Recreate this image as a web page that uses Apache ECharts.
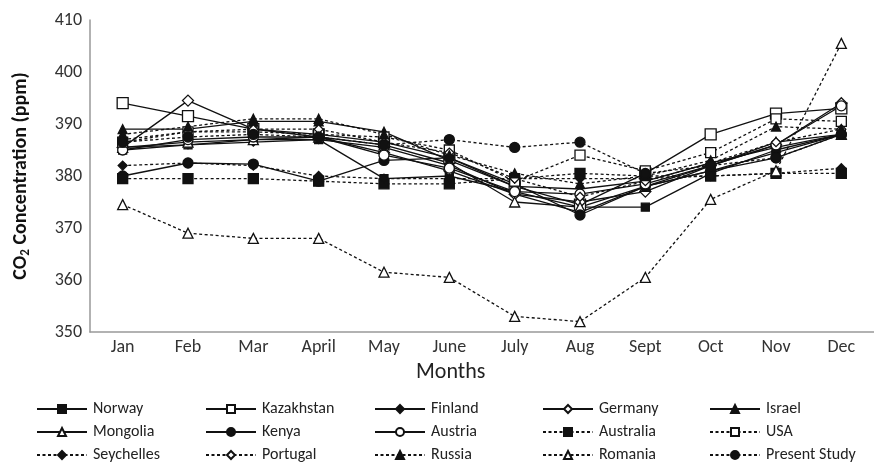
<!DOCTYPE html>
<html>
<head>
<meta charset="utf-8">
<script src="https://cdn.jsdelivr.net/npm/echarts@6/dist/echarts.min.js"></script>
<style>
  html, body { margin: 0; padding: 0; background: #fff; }
  #chart { width: 874px; height: 464px; }
</style>
</head>
<body>
<div id="chart"></div>
<script>
// Monthly CO2 concentration (ppm) by country
const months = ['Jan', 'Feb', 'Mar', 'April', 'May', 'June', 'July', 'Aug', 'Sept', 'Oct', 'Nov', 'Dec'];
const yTicks = [350, 360, 370, 380, 390, 400, 410];

const norway       = [385.0, 386.0, 387.0, 387.0, 379.5, 380.0, 377.0, 374.0, 374.0, 380.5, 385.0, 388.0];
const kazakhstan   = [394.0, 391.5, 389.0, 388.0, 386.5, 383.5, 378.0, 374.5, 380.5, 388.0, 392.0, 393.0];
const finland      = [385.5, 386.0, 386.5, 387.0, 385.5, 382.0, 376.5, 373.0, 378.0, 381.0, 384.5, 388.0];
const germany      = [385.5, 394.5, 389.0, 387.5, 384.5, 381.0, 376.5, 375.0, 377.0, 382.0, 386.0, 394.0];
const israel       = [389.0, 389.0, 390.5, 390.5, 388.5, 383.0, 378.0, 377.5, 379.0, 382.5, 385.5, 388.0];
const mongolia     = [385.5, 386.5, 387.0, 387.5, 386.0, 382.5, 375.0, 374.0, 378.0, 382.0, 386.5, 388.0];
const kenya        = [380.0, 382.5, 382.3, 379.0, 383.0, 383.5, 378.5, 372.5, 378.0, 381.0, 383.5, 388.0];
const austria      = [385.0, 387.0, 387.5, 387.5, 384.0, 381.5, 377.0, 376.5, 378.5, 382.0, 386.0, 393.5];
const australia    = [379.5, 379.5, 379.5, 379.0, 378.5, 378.5, 379.5, 380.5, 380.0, 380.0, 380.5, 380.5];
const usa          = [386.5, 388.5, 388.5, 388.0, 387.5, 385.0, 379.0, 384.0, 381.0, 384.5, 391.0, 390.5];
const seychelles   = [382.0, 382.5, 382.0, 380.0, 379.5, 379.5, 379.5, 379.5, 379.5, 380.0, 380.5, 381.5];
const portugal     = [387.0, 388.5, 389.0, 389.0, 386.5, 384.5, 379.5, 376.0, 379.0, 382.5, 386.5, 389.0];
const russia       = [388.0, 389.5, 391.0, 391.0, 388.0, 384.0, 380.5, 378.5, 380.0, 383.0, 389.5, 389.0];
const romania      = [374.5, 369.0, 368.0, 368.0, 361.5, 360.5, 353.0, 352.0, 360.5, 375.5, 381.0, 405.5];
const presentStudy = [386.5, 387.5, 388.0, 387.5, 386.0, 387.0, 385.5, 386.5, 380.5, 382.0, 383.5, 388.0];

const FONT = 'Carlito, Lato, "Open Sans", sans-serif';
const INK = '#111';

// Marker and line look of each series (legend order: row by row)
const looks = [
  { name: 'Norway',        data: norway,       symbol: 'rect',     size: 8,  open: false, dash: false },
  { name: 'Kazakhstan',    data: kazakhstan,   symbol: 'rect',     size: 11, open: true,  dash: false },
  { name: 'Finland',       data: finland,      symbol: 'diamond',  size: 8,  open: false, dash: false },
  { name: 'Germany',       data: germany,      symbol: 'diamond',  size: 11, open: true,  dash: false },
  { name: 'Israel',        data: israel,       symbol: 'triangle', size: 9,  open: false, dash: false },
  { name: 'Mongolia',      data: mongolia,     symbol: 'triangle', size: 10, open: true,  dash: false },
  { name: 'Kenya',         data: kenya,        symbol: 'circle',   size: 10, open: false, dash: false },
  { name: 'Austria',       data: austria,      symbol: 'circle',   size: 10, open: true,  dash: false },
  { name: 'Australia',     data: australia,    symbol: 'rect',     size: 10, open: false, dash: true },
  { name: 'USA',           data: usa,          symbol: 'rect',     size: 10, open: true,  dash: true },
  { name: 'Seychelles',    data: seychelles,   symbol: 'diamond',  size: 9,  open: false, dash: true },
  { name: 'Portugal',      data: portugal,     symbol: 'diamond',  size: 9,  open: true,  dash: true },
  { name: 'Russia',        data: russia,       symbol: 'triangle', size: 9,  open: false, dash: true },
  { name: 'Romania',       data: romania,      symbol: 'triangle', size: 10, open: true,  dash: true },
  { name: 'Present Study', data: presentStudy, symbol: 'circle',   size: 10, open: false, dash: true }
];

const series = looks.map(s => ({
  name: s.name,
  type: 'line',
  data: s.data,
  symbol: s.symbol,
  symbolSize: s.size,
  showAllSymbol: true,
  lineStyle: { color: INK, width: 1.3, type: s.dash ? [3, 2.5] : 'solid' },
  itemStyle: { color: s.open ? '#fff' : INK, borderColor: INK, borderWidth: 1.3 },
  emphasis: { disabled: true },
  animation: false
}));

// Legend: one entry per cell of a 5-column, 3-row block
const colLeft = [36, 205, 374, 542, 709];
const rowTop = [401, 424, 447];
const legends = looks.map((s, i) => ({
  left: colLeft[i % 5],
  top: rowTop[Math.floor(i / 5)],
  itemWidth: 50,
  itemHeight: 10,
  itemGap: 0,
  padding: 0,
  data: [s.name],
  textStyle: { fontFamily: FONT, fontSize: 16, color: '#222', padding: [0, 0, 0, 1] },
  selectedMode: false
}));

const chart = echarts.init(document.getElementById('chart'));
chart.setOption({
  backgroundColor: '#fff',
  animation: false,
  title: {
    text: 'Months',
    left: 416,
    top: 361,
    padding: 0,
    textStyle: { fontFamily: FONT, fontSize: 22, fontWeight: 'normal', color: '#222' }
  },
  grid: { left: 90, right: -2, top: 20, bottom: 132 },
  legend: legends,
  xAxis: {
    type: 'category',
    data: months,
    boundaryGap: true,
    axisLine: { lineStyle: { color: '#999', width: 1.5 } },
    axisTick: { show: false },
    axisLabel: { fontFamily: FONT, fontSize: 18, color: '#333', margin: 6 }
  },
  yAxis: {
    type: 'value',
    min: yTicks[0],
    max: yTicks[yTicks.length - 1],
    interval: 10,
    axisLine: { show: true, lineStyle: { color: '#999', width: 1.5 } },
    axisTick: { show: false },
    splitLine: { show: false },
    axisLabel: { fontFamily: FONT, fontSize: 18, color: '#333', margin: 8 },
    name: '{a|CO}{s|2}{a| Concentration (ppm)}',
    nameLocation: 'middle',
    nameGap: 58,
    nameRotate: 90,
    nameTextStyle: {
      rich: {
        a: { fontFamily: FONT, fontSize: 20, fontWeight: 'bold', color: '#111' },
        s: { fontFamily: FONT, fontSize: 13, fontWeight: 'bold', color: '#111', verticalAlign: 'bottom', padding: [10, 0, 0, 0] }
      }
    }
  },
  series: series
});
</script>
</body>
</html>
